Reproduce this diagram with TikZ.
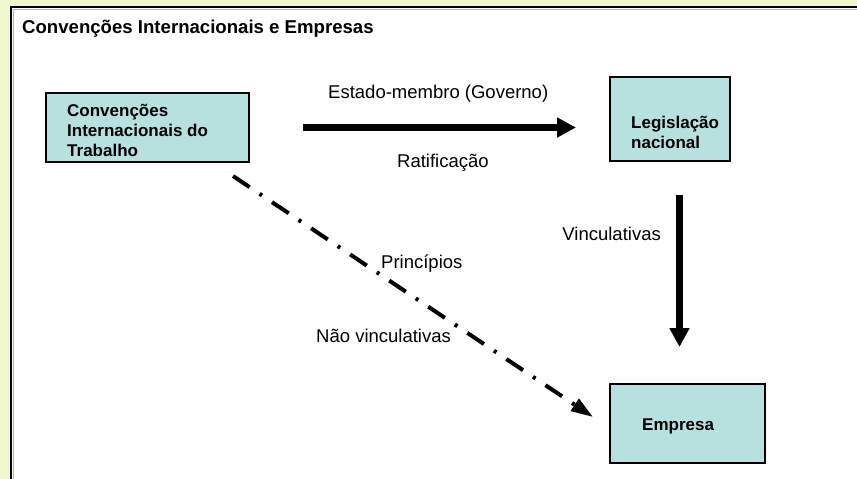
\documentclass[tikz,border=0pt]{standalone}
\usepackage{fontspec}
\setmainfont{Liberation Sans}
\usetikzlibrary{arrows.meta}
\definecolor{pagebg}{RGB}{238,248,204}
\definecolor{boxfill}{RGB}{183,225,223}
\begin{document}
\begin{tikzpicture}[x=1pt,y=-1pt,
  box/.style={draw=black, line width=1.2pt, fill=boxfill, inner sep=0pt, outer sep=0pt, anchor=north west},
  boxtext/.style={inner sep=0pt, font=\fontsize{17}{20}\selectfont\bfseries, align=left},
  lbl/.style={inner sep=0pt, font=\fontsize{18.5}{22}\selectfont},
  bigarrow/.style={line width=6.5pt, -{Triangle[length=19pt,width=19pt]}},
  dasharrow/.style={line width=4pt, dash pattern=on 20pt off 12pt on 3pt off 12pt, -{Triangle[length=22pt,width=14pt]}}
]
% page and frame
\path[use as bounding box, fill=pagebg] (0,0) rectangle (857,479);
\fill[white] (11,7) rectangle (857,479);
\draw[gray!60, line width=1pt] (13,479) -- (13,9) -- (857,9);
\draw[black, line width=2pt] (11,479) -- (11,7) -- (857,7);

% title
\node[inner sep=0pt, anchor=base west, font=\fontsize{18.6}{22}\selectfont\bfseries] (title) at (22,33) {Convenções Internacionais e Empresas};

% boxes
\node[box, minimum width=203pt, minimum height=69pt] (conv) at (46,93) {};
\node[box, minimum width=120pt, minimum height=84pt] (leg) at (610,77) {};
\node[box, minimum width=155pt, minimum height=79pt] (emp) at (610,384) {};

% box texts
\node[boxtext, anchor=north west] (convtxt) at (67,104) {Convenções\\Internacionais do\\Trabalho};
\node[boxtext, anchor=north west] (legtxt) at (631,116) {Legislação\\nacional};
\node[boxtext, anchor=base west] (emptxt) at (642,430) {Empresa};

% connectors
\draw[bigarrow, shorten <=54pt, shorten >=34pt] (conv.east) -- (conv.east -| leg.west);
\draw[bigarrow, shorten <=34pt, shorten >=37pt] ([xshift=9.5pt]leg.south) -- ([xshift=-8pt]emp.north);
\coordinate (d1) at (233,176);
\coordinate (d2) at (593,417);
\draw[dasharrow] (d1) -- (d2);

% labels
\node[lbl, anchor=base west] (l1) at (328,98) {Estado-membro (Governo)};
\node[lbl, anchor=base west] (l2) at (397,167) {Ratificação};
\node[lbl, anchor=base east] (l3) at (661,240) {Vinculativas};
\node[lbl, anchor=base west] (l4) at (381,268) {Princípios};
\node[lbl, anchor=base west] (l5) at (316,342) {Não vinculativas};
\end{tikzpicture}
\end{document}
